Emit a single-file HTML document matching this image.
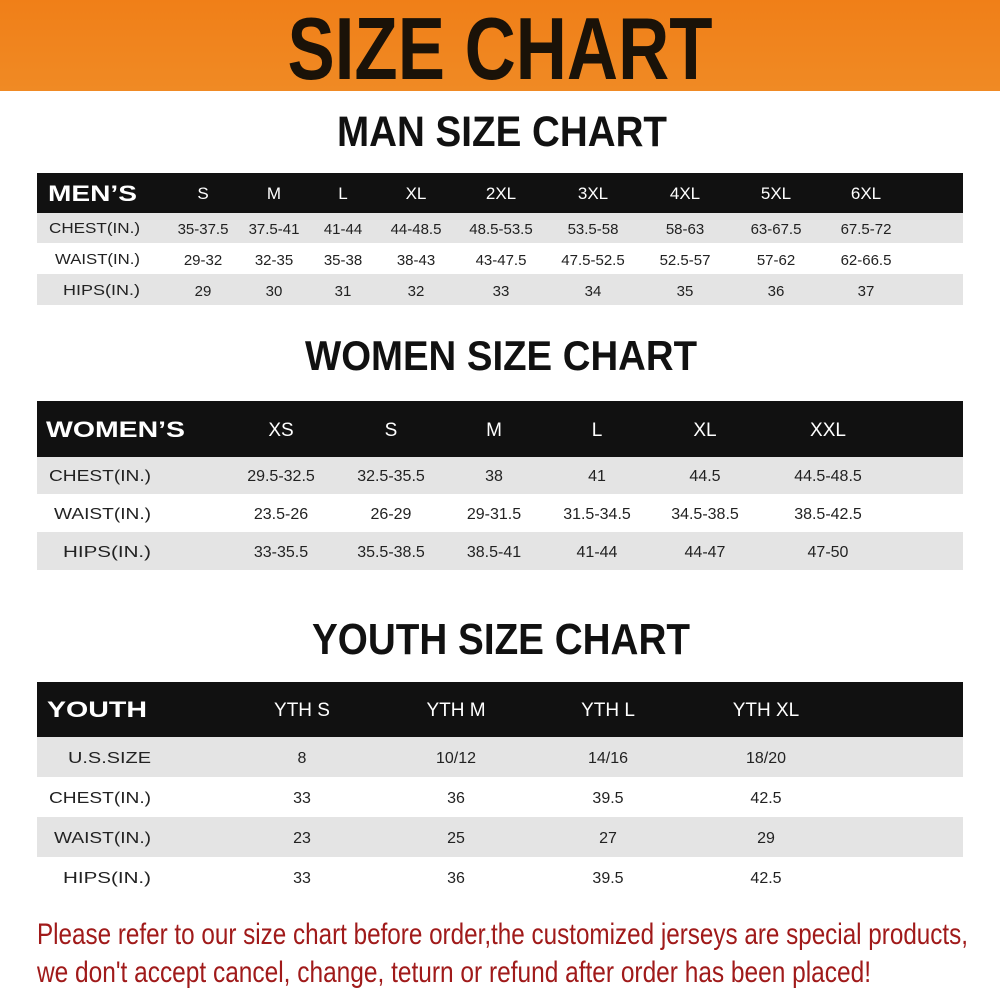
<!DOCTYPE html>
<html><head><meta charset="utf-8"><style>
html,body{margin:0;padding:0;background:#fff}
svg{display:block}
text{font-family:"Liberation Sans",sans-serif}
</style></head><body>
<svg width="1000" height="1000" viewBox="0 0 1000 1000" xmlns="http://www.w3.org/2000/svg">
<defs>
<linearGradient id="og" x1="0" y1="0" x2="0" y2="1">
<stop offset="0" stop-color="#f07f18"/><stop offset="1" stop-color="#f08a24"/>
</linearGradient>
</defs>
<rect x="0" y="0" width="1000" height="91" fill="url(#og)"/>
<text x="500" y="79" font-size="88" font-weight="bold" text-anchor="middle" textLength="425" lengthAdjust="spacingAndGlyphs" fill="#1a1208">SIZE CHART</text>

<text x="502" y="146" font-size="43" font-weight="bold" text-anchor="middle" textLength="330" lengthAdjust="spacingAndGlyphs" fill="#111">MAN SIZE CHART</text>
<rect x="37" y="173" width="926" height="40" fill="#111"/>
<rect x="37" y="213" width="926" height="30" fill="#e4e4e4"/>
<rect x="37" y="274" width="926" height="31" fill="#e4e4e4"/>
<g fill="#fff" font-size="17" text-anchor="middle">
<text x="48" y="201" font-size="22" font-weight="bold" text-anchor="start" textLength="89" lengthAdjust="spacingAndGlyphs">MEN’S</text>
<text x="203" y="199">S</text><text x="274" y="199">M</text><text x="343" y="199">L</text><text x="416" y="199">XL</text><text x="501" y="199">2XL</text><text x="593" y="199">3XL</text><text x="685" y="199">4XL</text><text x="776" y="199">5XL</text><text x="866" y="199">6XL</text>
</g>
<g fill="#222" font-size="15" text-anchor="middle">
<text x="49" y="233" text-anchor="start" textLength="91" lengthAdjust="spacingAndGlyphs">CHEST(IN.)</text>
<text x="55" y="264" text-anchor="start" textLength="85" lengthAdjust="spacingAndGlyphs">WAIST(IN.)</text>
<text x="63" y="295" text-anchor="start" textLength="77" lengthAdjust="spacingAndGlyphs">HIPS(IN.)</text>
<text x="203" y="234">35-37.5</text><text x="274" y="234">37.5-41</text><text x="343" y="234">41-44</text><text x="416" y="234">44-48.5</text><text x="501" y="234">48.5-53.5</text><text x="593" y="234">53.5-58</text><text x="685" y="234">58-63</text><text x="776" y="234">63-67.5</text><text x="866" y="234">67.5-72</text>
<text x="203" y="265">29-32</text><text x="274" y="265">32-35</text><text x="343" y="265">35-38</text><text x="416" y="265">38-43</text><text x="501" y="265">43-47.5</text><text x="593" y="265">47.5-52.5</text><text x="685" y="265">52.5-57</text><text x="776" y="265">57-62</text><text x="866" y="265">62-66.5</text>
<text x="203" y="296">29</text><text x="274" y="296">30</text><text x="343" y="296">31</text><text x="416" y="296">32</text><text x="501" y="296">33</text><text x="593" y="296">34</text><text x="685" y="296">35</text><text x="776" y="296">36</text><text x="866" y="296">37</text>
</g>

<text x="501" y="370" font-size="42" font-weight="bold" text-anchor="middle" textLength="392" lengthAdjust="spacingAndGlyphs" fill="#111">WOMEN SIZE CHART</text>
<rect x="37" y="401" width="926" height="56" fill="#111"/>
<rect x="37" y="457" width="926" height="37" fill="#e4e4e4"/>
<rect x="37" y="532" width="926" height="38" fill="#e4e4e4"/>
<g fill="#fff" font-size="19" text-anchor="middle">
<text x="46" y="437" font-size="22" font-weight="bold" text-anchor="start" textLength="139" lengthAdjust="spacingAndGlyphs">WOMEN’S</text>
<text x="281" y="436">XS</text><text x="391" y="436">S</text><text x="494" y="436">M</text><text x="597" y="436">L</text><text x="705" y="436">XL</text><text x="828" y="436">XXL</text>
</g>
<g fill="#222" font-size="16" text-anchor="middle">
<text x="49" y="481" text-anchor="start" textLength="102" lengthAdjust="spacingAndGlyphs">CHEST(IN.)</text>
<text x="54" y="519" text-anchor="start" textLength="97" lengthAdjust="spacingAndGlyphs">WAIST(IN.)</text>
<text x="63" y="557" text-anchor="start" textLength="88" lengthAdjust="spacingAndGlyphs">HIPS(IN.)</text>
<text x="281" y="481">29.5-32.5</text><text x="391" y="481">32.5-35.5</text><text x="494" y="481">38</text><text x="597" y="481">41</text><text x="705" y="481">44.5</text><text x="828" y="481">44.5-48.5</text>
<text x="281" y="519">23.5-26</text><text x="391" y="519">26-29</text><text x="494" y="519">29-31.5</text><text x="597" y="519">31.5-34.5</text><text x="705" y="519">34.5-38.5</text><text x="828" y="519">38.5-42.5</text>
<text x="281" y="557">33-35.5</text><text x="391" y="557">35.5-38.5</text><text x="494" y="557">38.5-41</text><text x="597" y="557">41-44</text><text x="705" y="557">44-47</text><text x="828" y="557">47-50</text>
</g>

<text x="501" y="654" font-size="44" font-weight="bold" text-anchor="middle" textLength="378" lengthAdjust="spacingAndGlyphs" fill="#111">YOUTH SIZE CHART</text>
<rect x="37" y="682" width="926" height="55" fill="#111"/>
<rect x="37" y="737" width="926" height="40" fill="#e4e4e4"/>
<rect x="37" y="817" width="926" height="40" fill="#e4e4e4"/>
<g fill="#fff" font-size="19" text-anchor="middle">
<text x="47" y="717" font-size="22" font-weight="bold" text-anchor="start" textLength="100" lengthAdjust="spacingAndGlyphs">YOUTH</text>
<text x="302" y="716">YTH S</text><text x="456" y="716">YTH M</text><text x="608" y="716">YTH L</text><text x="766" y="716">YTH XL</text>
</g>
<g fill="#222" font-size="16" text-anchor="middle">
<text x="68" y="763" text-anchor="start" textLength="83" lengthAdjust="spacingAndGlyphs">U.S.SIZE</text>
<text x="49" y="803" text-anchor="start" textLength="102" lengthAdjust="spacingAndGlyphs">CHEST(IN.)</text>
<text x="54" y="843" text-anchor="start" textLength="97" lengthAdjust="spacingAndGlyphs">WAIST(IN.)</text>
<text x="63" y="883" text-anchor="start" textLength="88" lengthAdjust="spacingAndGlyphs">HIPS(IN.)</text>
<text x="302" y="763">8</text><text x="456" y="763">10/12</text><text x="608" y="763">14/16</text><text x="766" y="763">18/20</text>
<text x="302" y="803">33</text><text x="456" y="803">36</text><text x="608" y="803">39.5</text><text x="766" y="803">42.5</text>
<text x="302" y="843">23</text><text x="456" y="843">25</text><text x="608" y="843">27</text><text x="766" y="843">29</text>
<text x="302" y="883">33</text><text x="456" y="883">36</text><text x="608" y="883">39.5</text><text x="766" y="883">42.5</text>
</g>

<g fill="#a01a1a" font-size="30">
<text x="37" y="944" textLength="931" lengthAdjust="spacingAndGlyphs">Please refer to our size chart before order,the customized jerseys are special products,</text>
<text x="37" y="982" textLength="834" lengthAdjust="spacingAndGlyphs">we don't accept cancel, change, teturn or refund after order has been placed!</text>
</g>
</svg>
</body></html>
